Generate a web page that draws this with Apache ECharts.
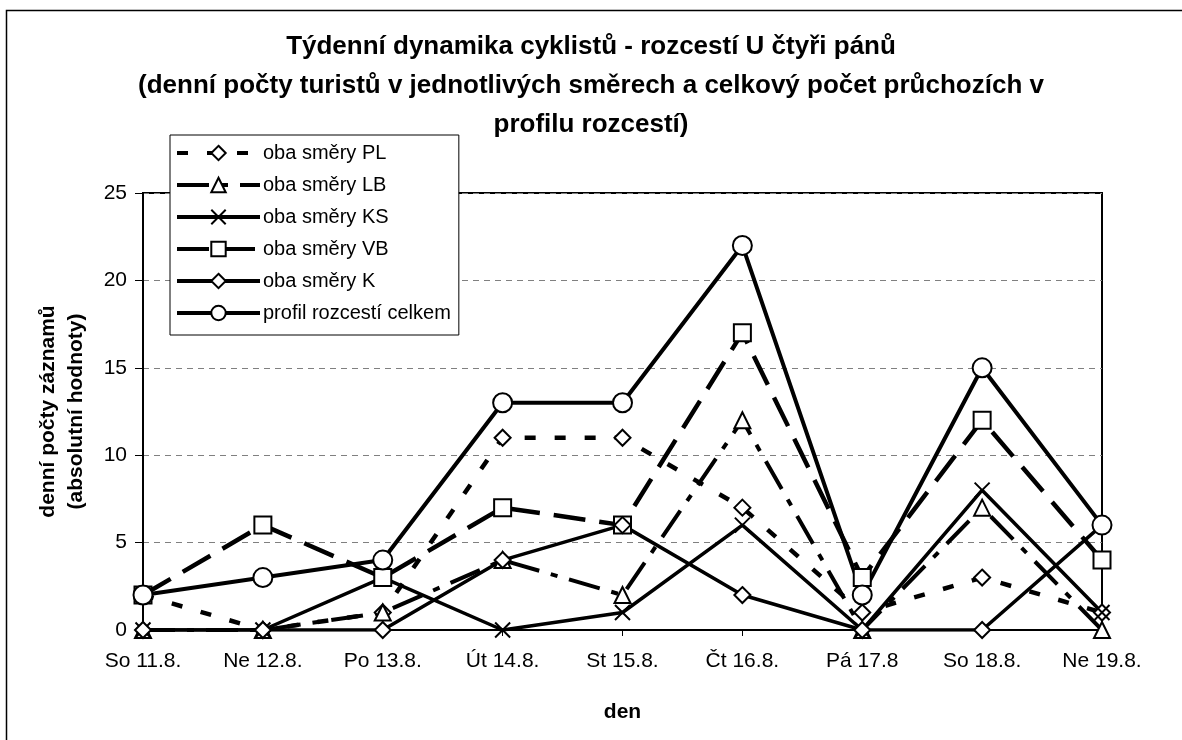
<!DOCTYPE html>
<html><head><meta charset="utf-8">
<script src="https://cdn.jsdelivr.net/npm/echarts@6/dist/echarts.min.js"></script>
<style>html,body{margin:0;padding:0;background:#fff}#c{width:1182px;height:740px}</style>
</head><body><div id="c"></div>
<script>
// ---- data ----
const categories = ['So 11.8.', 'Ne 12.8.', 'Po 13.8.', 'Út 14.8.', 'St 15.8.', 'Čt 16.8.', 'Pá 17.8', 'So 18.8.', 'Ne 19.8.'];
const seriesNames = ['oba směry PL', 'oba směry LB', 'oba směry KS', 'oba směry VB', 'oba směry K', 'profil rozcestí celkem'];
const valuesPL = [2, 0, 1, 11, 11, 7, 1, 3, 1];
const valuesLB = [0, 0, 1, 4, 2, 12, 0, 7, 0];
const valuesKS = [0, 0, 3, 0, 1, 6, 0, 8, 1];
const valuesVB = [2, 6, 3, 7, 6, 17, 3, 12, 4];
const valuesK = [0, 0, 0, 4, 6, 2, 0, 0, 6];
const valuesTotal = [2, 3, 4, 13, 13, 22, 2, 15, 6];
const yMin = 0, yMax = 25, yStep = 5;
const titleText = 'Týdenní dynamika cyklistů - rozcestí U čtyři pánů\n(denní počty turistů v jednotlivých směrech a celkový počet průchozích v\nprofilu rozcestí)';
const xName = 'den';
const yName = 'denní počty záznamů\n(absolutní hodnoty)';

// ---- styles ----
const FONT = 'Liberation Sans, Arial, sans-serif';
const X_SYMBOL = 'path://M0,0L10,10M10,0L0,10';
function mk(name, data, symbol, size, dash, width) {
  return {
    name: name, type: 'line', data: data,
    symbol: symbol, symbolSize: size, showSymbol: true,
    lineStyle: { color: '#000', width: width, type: dash, cap: 'butt' },
    itemStyle: { color: '#fff', borderColor: '#000', borderWidth: 2 },
    emphasis: { disabled: true },
    animation: false
  };
}

const chart = echarts.init(document.getElementById('c'));
chart.setOption({
  backgroundColor: '#fff',
  animation: false,
  textStyle: { fontFamily: FONT },
  title: {
    text: titleText, left: 'center', top: 22,
    textStyle: { fontFamily: FONT, fontSize: 26, fontWeight: 'bold', color: '#000', lineHeight: 39 }
  },
  legend: {
    orient: 'vertical', left: 170, top: 135,
    padding: [8, 8, 12, 5],
    backgroundColor: '#fff', borderColor: '#000', borderWidth: 1,
    itemWidth: 83, itemHeight: 18, itemGap: 12,
    lineStyle: { width: 4 },
    textStyle: { fontFamily: FONT, fontSize: 20, color: '#000', padding: [0, 0, 0, -2] },
    data: seriesNames
  },
  grid: { left: 143, right: 80, top: 193, bottom: 110, show: true, borderColor: '#000', borderWidth: 2, containLabel: false },
  xAxis: {
    type: 'category', data: categories, boundaryGap: false,
    axisLine: { lineStyle: { color: '#000', width: 2 } },
    axisTick: { show: true, length: 6, lineStyle: { color: '#000', width: 1 } },
    axisLabel: { color: '#000', fontSize: 21, fontFamily: FONT, margin: 21 },
    splitLine: { show: false },
    name: xName, nameLocation: 'middle', nameGap: 72,
    nameTextStyle: { color: '#000', fontSize: 21, fontWeight: 'bold', fontFamily: FONT }
  },
  yAxis: {
    type: 'value', min: yMin, max: yMax, interval: yStep,
    axisLine: { show: true, lineStyle: { color: '#000', width: 2 } },
    axisTick: { show: true, length: 8, lineStyle: { color: '#000', width: 1 } },
    axisLabel: { color: '#000', fontSize: 21, fontFamily: FONT, margin: 16 },
    splitLine: { show: true, lineStyle: { color: '#808080', width: 1, type: [6, 5] } },
    name: yName, nameLocation: 'middle', nameRotate: 90, nameGap: 53,
    nameTextStyle: { color: '#000', fontSize: 21, fontWeight: 'bold', fontFamily: FONT, lineHeight: 28 }
  },
  graphic: [{
    type: 'rect', left: 4, top: 8, z: -10, silent: true,
    shape: { x: 0, y: 0, width: 1200, height: 800 },
    style: { fill: 'none', stroke: '#000', lineWidth: 1.5 }
  }],
  series: [
    mk(seriesNames[0], valuesPL, 'diamond', 16, [11, 19], 4.5),
    mk(seriesNames[1], valuesLB, 'triangle', 16, [32, 12, 7, 12], 4),
    mk(seriesNames[2], valuesKS, X_SYMBOL, 15, 'solid', 3.5),
    mk(seriesNames[3], valuesVB, 'rect', 17, [32, 14], 4.5),
    mk(seriesNames[4], valuesK, 'diamond', 16, 'solid', 3.5),
    mk(seriesNames[5], valuesTotal, 'circle', 19, 'solid', 4)
  ]
});
</script>
</body></html>
